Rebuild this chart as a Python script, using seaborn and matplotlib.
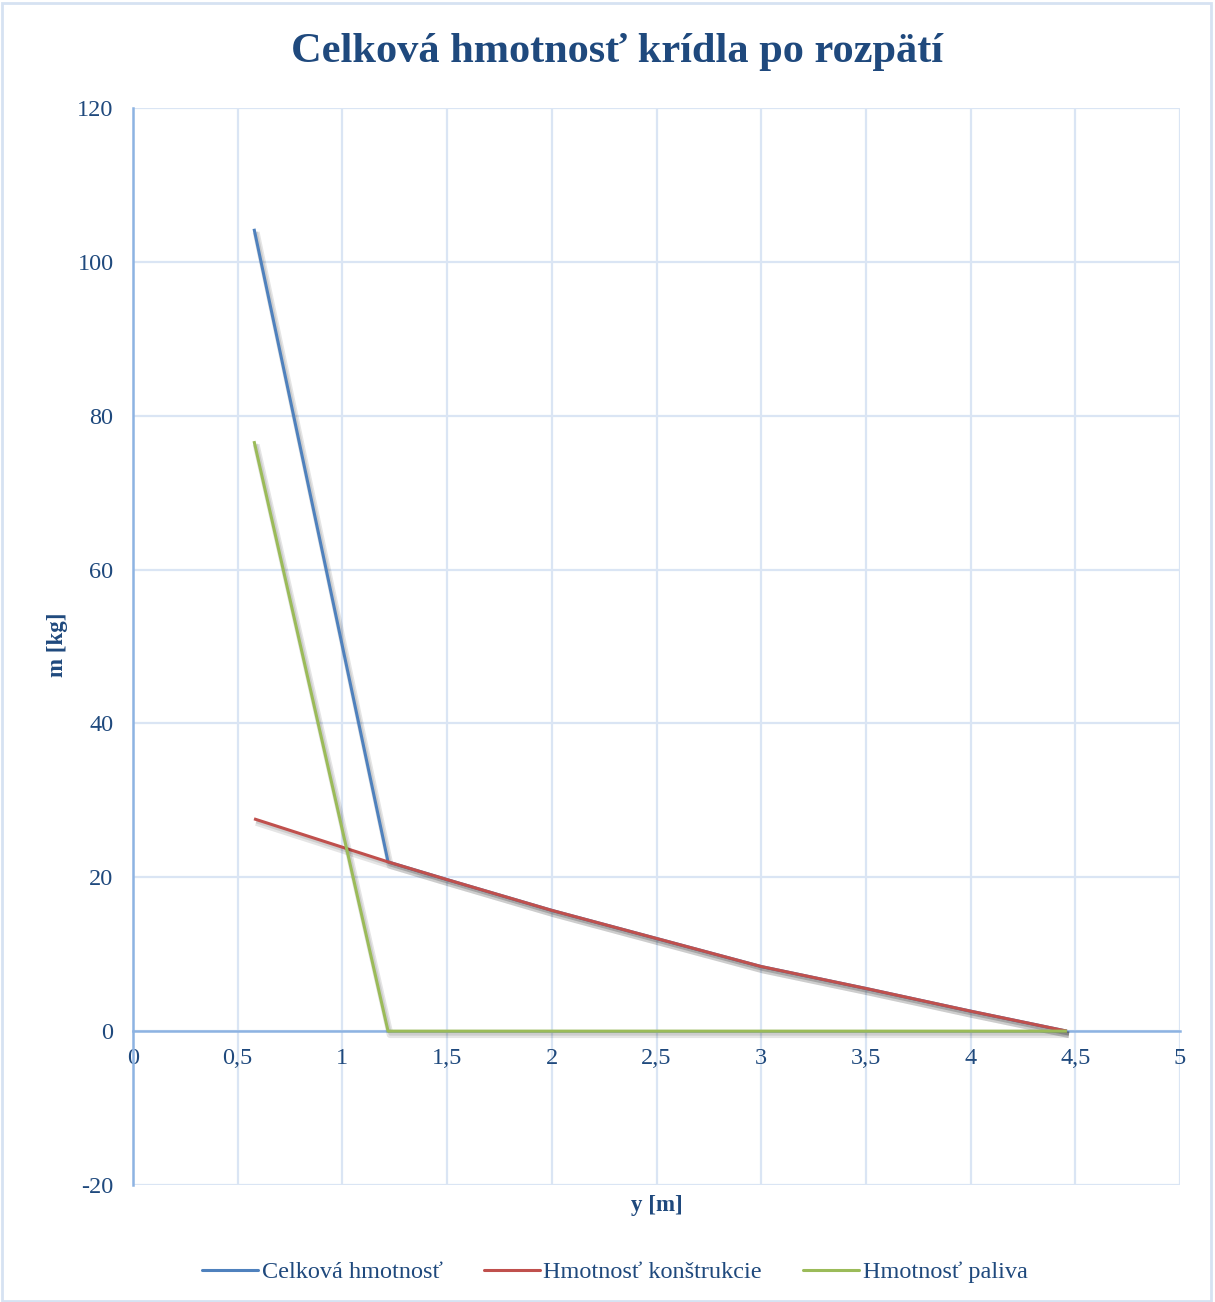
import numpy as np
import pandas as pd
import matplotlib
matplotlib.use("Agg")
import matplotlib.pyplot as plt
import matplotlib.patheffects as pe
from matplotlib.patches import Rectangle
from matplotlib.ticker import FuncFormatter
import seaborn as sns

# Spanwise stations y [m]
span = [0.578, 1.218, 1.5, 2.0, 2.5, 3.0, 3.5, 4.0, 4.46]
# Structural mass distribution [kg]
mass_structure = [27.6, 22.0, 19.7, 15.7, 12.05, 8.4, 5.55, 2.6, 0.0]
# Fuel mass distribution [kg]
mass_fuel = [76.7, 0.0, 0.0, 0.0, 0.0, 0.0, 0.0, 0.0, 0.0]
# Total mass = structure + fuel
mass_total = [s + f for s, f in zip(mass_structure, mass_fuel)]

series_names = ["Celková hmotnosť", "Hmotnosť konštrukcie", "Hmotnosť paliva"]
series_colors = ["#4F81BD", "#C0504D", "#9BBB59"]

x_ticks = [0, 0.5, 1, 1.5, 2, 2.5, 3, 3.5, 4, 4.5, 5]
y_ticks = [-20, 0, 20, 40, 60, 80, 100, 120]

df = pd.concat([
    pd.DataFrame({"y": span, "m": mass_total, "series": series_names[0]}),
    pd.DataFrame({"y": span, "m": mass_structure, "series": series_names[1]}),
    pd.DataFrame({"y": span, "m": mass_fuel, "series": series_names[2]}),
], ignore_index=True)

sns.set_theme(style="white")
plt.rcParams["font.family"] = ["Liberation Serif", "DejaVu Serif"]

text_color = "#1F497D"
grid_color = "#DAE5F4"
axis_color = "#8DB3E2"

fig = plt.figure(figsize=(12.15, 13.02), dpi=100)
ax = fig.add_axes([133 / 1215, 1 - 1185 / 1302, (1180 - 133) / 1215, (1185 - 108) / 1302])

# soft drop shadow under each series
shadow = [pe.SimpleLineShadow(offset=(1.5, -2.5), shadow_color="#000000", alpha=0.10, linewidth=5),
          pe.SimpleLineShadow(offset=(1.5, -2.0), shadow_color="#000000", alpha=0.10, linewidth=2.5),
          pe.Normal()]

sns.lineplot(data=df, x="y", y="m", hue="series", hue_order=series_names,
             palette=series_colors, sort=False, estimator=None, linewidth=2.2,
             legend=False, ax=ax)
for line in ax.get_lines():
    line.set_path_effects(shadow)
    line.set_solid_capstyle("butt")
    line.set_zorder(3)

ax.set_xlim(0, 5)
ax.set_ylim(-20, 120)
ax.set_xticks(x_ticks)
ax.set_yticks(y_ticks)
fmt = FuncFormatter(lambda v, p: (f"{v:g}").replace(".", ","))
ax.xaxis.set_major_formatter(fmt)
ax.yaxis.set_major_formatter(fmt)

ax.grid(True, color=grid_color, linewidth=1.6)
ax.set_axisbelow(True)
for s in ["top", "right"]:
    ax.spines[s].set_visible(False)
ax.spines["left"].set_color(axis_color)
ax.spines["left"].set_linewidth(1.8)
ax.spines["bottom"].set_position(("data", 0))
ax.spines["bottom"].set_color(axis_color)
ax.spines["bottom"].set_linewidth(1.8)
ax.spines["left"].set_zorder(2)
ax.spines["bottom"].set_zorder(2)

ax.tick_params(axis="both", length=0, labelsize=17.5, labelcolor=text_color)
ax.tick_params(axis="y", pad=14)
ax.tick_params(axis="x", pad=12)

ax.set_xlabel("")
ax.set_ylabel("")
fig.text(657 / 1215, 1 - 1205 / 1302, "y [m]", ha="center", va="center",
         fontsize=16.5, fontweight="bold", color=text_color)
fig.text(58 / 1215, 1 - 645 / 1302, "m [kg]", ha="center", va="center", rotation=90,
         fontsize=16.5, fontweight="bold", color=text_color)

fig.text(617 / 1215, 1 - 52 / 1302, "Celková hmotnosť krídla po rozpätí", ha="center", va="center",
         fontsize=30.5, fontweight="bold", color=text_color)

handles = [plt.Line2D([], [], color=c, linewidth=2.2) for c in series_colors]
fig.legend(handles, series_names, loc="center", bbox_to_anchor=(615 / 1215, 1 - 1272 / 1302),
           ncol=3, frameon=False, fontsize=17.5, handlelength=2.3, handletextpad=0.15,
           columnspacing=1.7, labelcolor=text_color)

fig.patches.append(Rectangle((0.002, 0.001), 0.995, 0.997, transform=fig.transFigure,
                             fill=False, edgecolor="#D6E2F2", linewidth=2.0))

fig.savefig("out.png", dpi=100)
